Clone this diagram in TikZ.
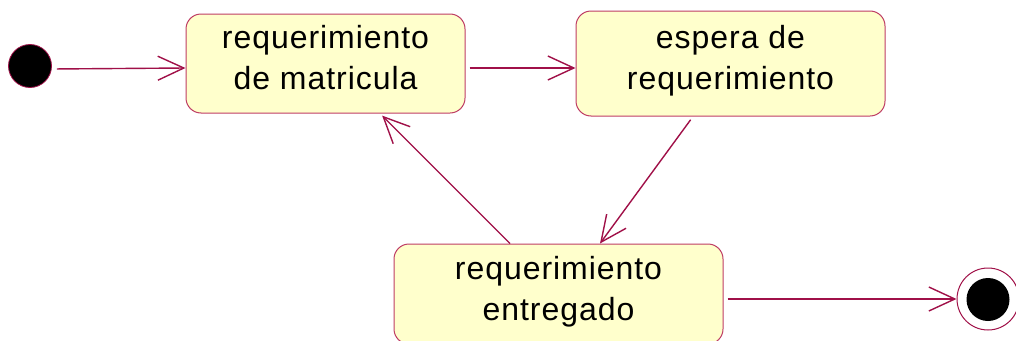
\documentclass[tikz,border=0pt]{standalone}
\usepackage{fontspec}
\setmainfont[LetterSpace=3]{Liberation Sans}
\usetikzlibrary{arrows.meta,calc}
\definecolor{edge}{RGB}{160,16,72}
\definecolor{boxfill}{RGB}{255,255,204}
\definecolor{boxline}{RGB}{190,60,100}
\tikzset{
  statebox/.style={draw=boxline, line width=1pt, fill=boxfill, rounded corners=15pt,
    align=center, inner sep=0pt, text height=52pt, text depth=0pt,
    font=\fontsize{32}{41}\selectfont},
  flow/.style={draw=edge, line width=1.4pt, -{Straight Barb[length=26pt,width=24pt,line width=1.4pt]}},
}
\begin{document}
\begin{tikzpicture}[x=1pt,y=-1pt]
\useasboundingbox (0,0) rectangle (1016,340);
\node[circle, fill=black, draw=edge, line width=0.8pt, minimum size=43pt, inner sep=0pt] (start) at (30,66) {};
\node[statebox, minimum width=279pt, minimum height=99pt] (b1) at (325.5,63.5) {requerimiento\\de matricula};
\node[statebox, minimum width=309pt, minimum height=105pt] (b2) at (730.5,63.5) {espera de\\requerimiento};
\node[statebox, minimum width=329pt, minimum height=100pt] (b3) at (558.5,294) {requerimiento\\entregado};
\node[circle, draw=edge, fill=white, line width=1pt, minimum size=62pt, inner sep=0pt] (endo) at (988,299) {};
\node[circle, fill=black, inner sep=0pt, minimum size=43pt] (endi) at (988,299.5) {};
\draw[flow, shorten <=5pt] ([yshift=-3pt]start.east) -- ([yshift=-4.5pt]b1.west);
\draw[flow, shorten <=4pt] ([yshift=-4.5pt]b1.east) -- ([yshift=-4.5pt]b2.west);
\draw[flow, shorten <=4pt] ([xshift=-37.5pt]b2.south) -- ([xshift=41.5pt]b3.north);
\draw[flow, shorten >=3pt] ([xshift=-48.5pt]b3.north) -- ([xshift=54.5pt]b1.south);
\draw[flow, shorten <=4pt] ([yshift=-5pt]b3.east) -- (endo.west);
\end{tikzpicture}
\end{document}
